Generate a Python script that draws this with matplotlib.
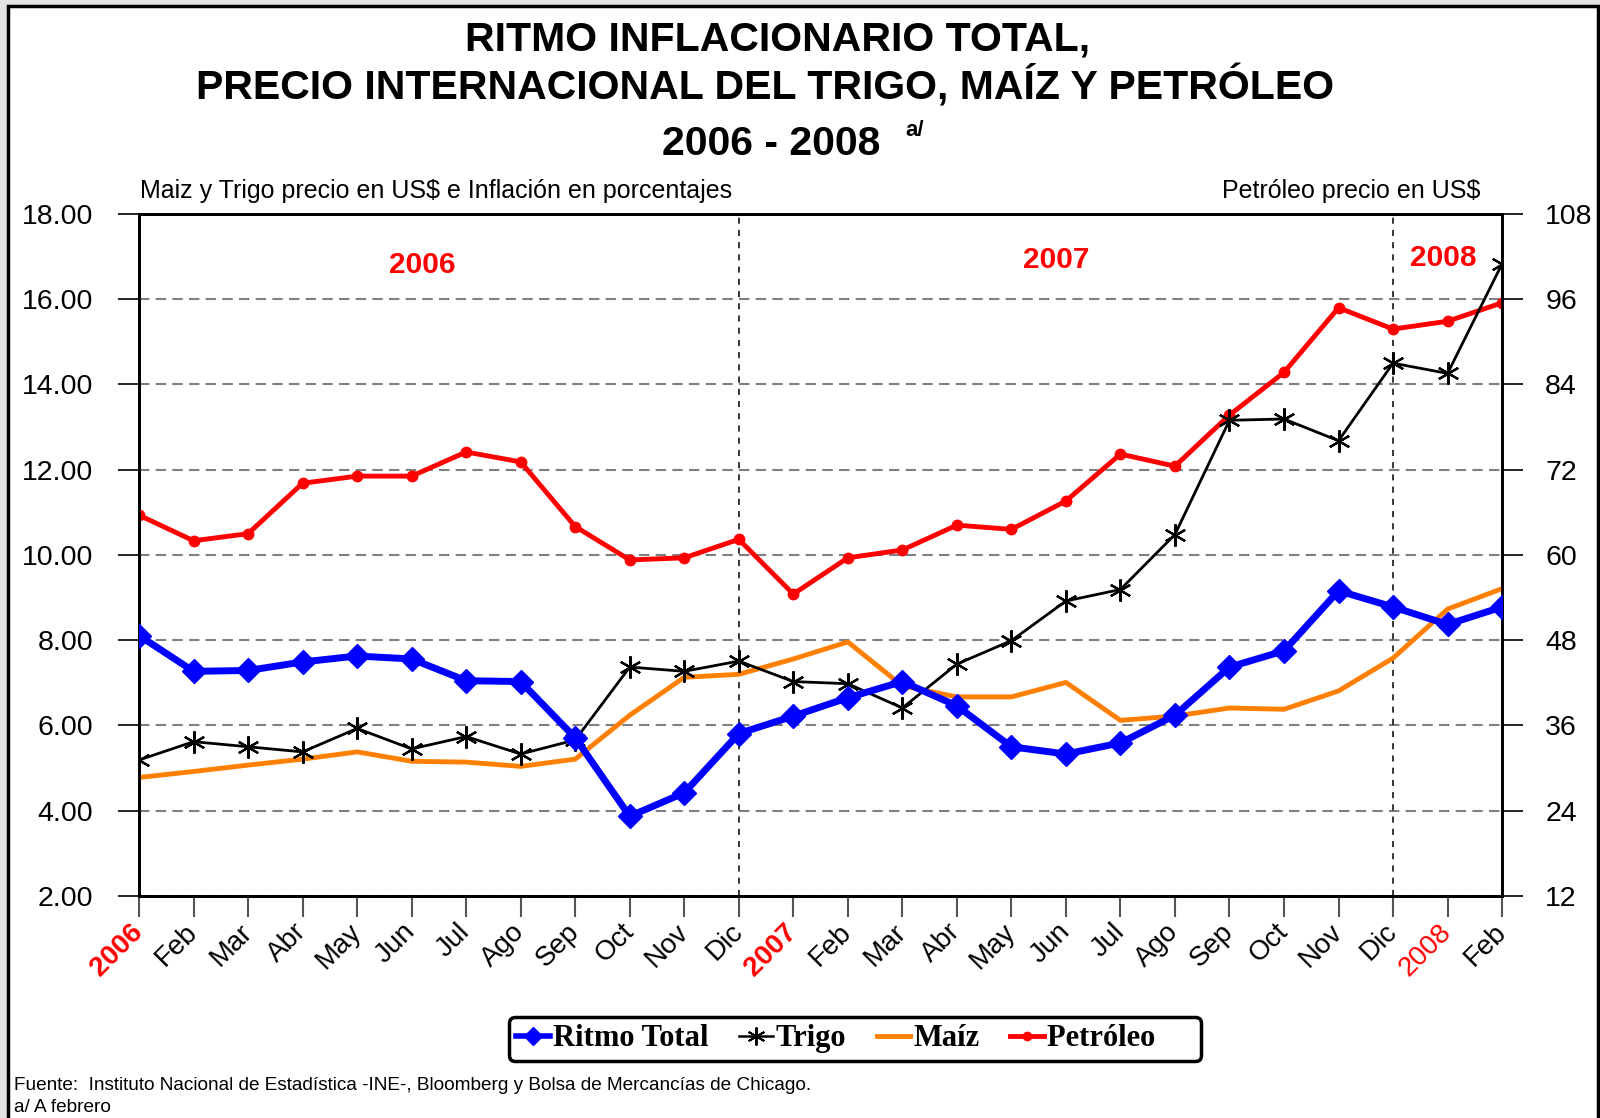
import matplotlib
matplotlib.use("Agg")
import matplotlib.pyplot as plt
from matplotlib.patches import Rectangle
from matplotlib.lines import Line2D

plt.rcParams['font.family'] = ['Liberation Sans', 'DejaVu Sans']

# Data
months = ['2006', 'Feb', 'Mar', 'Abr', 'May', 'Jun', 'Jul', 'Ago', 'Sep', 'Oct', 'Nov', 'Dic',
          '2007', 'Feb', 'Mar', 'Abr', 'May', 'Jun', 'Jul', 'Ago', 'Sep', 'Oct', 'Nov', 'Dic',
          '2008', 'Feb']
ritmo = [8.11, 7.27, 7.29, 7.49, 7.63, 7.56, 7.05, 7.03, 5.71, 3.87, 4.42, 5.81,
         6.22, 6.65, 7.03, 6.46, 5.50, 5.33, 5.59, 6.24, 7.37, 7.75, 9.16, 8.78,
         8.37, 8.78]
trigo = [5.19, 5.62, 5.50, 5.38, 5.93, 5.45, 5.74, 5.33, 5.66, 7.37, 7.27, 7.51,
         7.03, 6.98, 6.41, 7.44, 7.99, 8.92, 9.19, 10.48, 13.16, 13.19, 12.68, 14.50,
         14.26, 16.83]
maiz = [4.78, 4.92, 5.07, 5.21, 5.38, 5.16, 5.14, 5.04, 5.21, 6.24, 7.13, 7.20,
        7.56, 7.96, 6.93, 6.67, 6.67, 7.01, 6.12, 6.22, 6.41, 6.38, 6.81, 7.58,
        8.73, 9.21]
petroleo = [65.6, 62.0, 63.0, 70.1, 71.1, 71.1, 74.5, 73.1, 64.0, 59.3, 59.6, 62.2,
            54.5, 59.6, 60.7, 64.2, 63.6, 67.6, 74.2, 72.5, 79.7, 85.7, 94.8, 91.8,
            92.9, 95.5]
left_ticks = [2, 4, 6, 8, 10, 12, 14, 16, 18]
right_ticks = [12, 24, 36, 48, 60, 72, 84, 96, 108]
year_idx = {0: True, 12: True, 24: False}   # index -> bold
x = list(range(len(months)))

fig = plt.figure(figsize=(16, 11.18), dpi=100)
fig.patch.set_facecolor('#e4e4e4')
fig.add_artist(Rectangle((8 / 1600, -0.01), 1590 / 1600, 1.01 - 6 / 1118,
                         transform=fig.transFigure, facecolor='white',
                         edgecolor='black', lw=2.5, zorder=0))

# base axes carries petroleum (right scale) and the x axis
ax2 = fig.add_axes([0.0869, 0.1986, 0.8519, 0.61])
ax = ax2.twinx()
ax2.yaxis.tick_right()
ax.yaxis.tick_left()
ax.set_zorder(ax2.get_zorder() + 1)
ax.patch.set_visible(False)
ax2.patch.set_visible(True)
ax2.patch.set_facecolor('white')

ax2.plot(x, petroleo, color='#ff0000', lw=3.5, marker='o', ms=7.5, label='Petróleo', zorder=3)
ax.plot(x, maiz, color='#ff8000', lw=3.5, label='Maíz', zorder=2)
ax.plot(x, trigo, color='black', lw=2, marker=(6, 2, 0), ms=16, mew=1.6, label='Trigo', zorder=3)
ax.plot(x, ritmo, color='#0000ff', lw=5, marker='D', ms=12, label='Ritmo Total', zorder=4)

ax.set_xlim(0, 25)
ax2.set_xlim(0, 25)
ax.set_ylim(2, 18)
ax2.set_ylim(12, 108)
ax.set_yticks(left_ticks)
ax.set_yticklabels([f'{v:.2f}' for v in left_ticks])
ax2.set_yticks(right_ticks)
ax2.set_yticklabels([str(v) for v in right_ticks])

ax2.yaxis.grid(True, color='#808080', ls=(0, (5, 3)), lw=1.5)
for xv in [11, 23]:
    ax2.axvline(xv, color='black', ls=(0, (4, 4)), lw=1.1)

ax.tick_params(axis='y', direction='out', length=15, width=1.2, pad=18, labelsize=20.5)
ax2.tick_params(axis='y', direction='out', length=15, width=1.2, pad=16, labelsize=20.5)
ax2.set_xticks(x)
ax2.tick_params(axis='x', direction='out', length=15, width=1.5, color='#555555', pad=8)
ax2.set_xticklabels(months, rotation=45, ha='right', va='center', rotation_mode='anchor',
                    fontsize=20)
for i, lab in enumerate(ax2.get_xticklabels()):
    if i in year_idx:
        lab.set_color('#ff0000')
        if year_idx[i]:
            lab.set_fontweight('bold')

for a in (ax, ax2):
    for s in a.spines.values():
        s.set_linewidth(2)
        s.set_color('black')

# year markers inside the plot
ax.text(0.208, 0.925, '2006', transform=ax.transAxes, color='#ff0000', fontsize=21.5,
        fontweight='bold', ha='center', va='center')
ax.text(0.673, 0.933, '2007', transform=ax.transAxes, color='#ff0000', fontsize=21.5,
        fontweight='bold', ha='center', va='center')
ax.text(0.957, 0.935, '2008', transform=ax.transAxes, color='#ff0000', fontsize=21.5,
        fontweight='bold', ha='center', va='center')

# titles
fig.text(0.486, 0.9544, 'RITMO INFLACIONARIO TOTAL,', ha='center', va='baseline',
         fontsize=29.5, fontweight='bold')
fig.text(0.478, 0.9114, 'PRECIO INTERNACIONAL DEL TRIGO, MAÍZ Y PETRÓLEO', ha='center',
         va='baseline', fontsize=29.5, fontweight='bold')
fig.text(0.482, 0.8614, '2006 - 2008', ha='center', va='baseline', fontsize=29.5,
         fontweight='bold')
fig.text(0.566, 0.878, 'a/', ha='left', va='baseline', fontsize=16, fontweight='bold')
fig.text(0.0875, 0.8229, 'Maiz y Trigo precio en US$ e Inflación en porcentajes',
         ha='left', va='baseline', fontsize=18)
fig.text(0.925, 0.8229, 'Petróleo precio en US$', ha='right', va='baseline', fontsize=18)

# legend
handles = [
    Line2D([], [], color='#0000ff', lw=4, marker='D', ms=9),
    Line2D([], [], color='black', lw=1.8, marker=(6, 2, 0), ms=13, mew=1.4),
    Line2D([], [], color='#ff8000', lw=3.5),
    Line2D([], [], color='#ff0000', lw=3.5, marker='o', ms=6),
]
leg = fig.legend(handles, ['Ritmo Total', 'Trigo', 'Maíz', 'Petróleo     '], ncol=4,
                 loc='center left', bbox_to_anchor=(0.318, 0.0707),
                 prop={'family': 'Liberation Serif', 'weight': 'bold', 'size': 22},
                 frameon=True, fancybox=True, edgecolor='black', framealpha=1,
                 handlelength=1.1, handletextpad=0.1, columnspacing=1.0,
                 borderpad=0.25, borderaxespad=0)
leg.get_frame().set_linewidth(2.5)

# notes
fig.text(0.0085, 0.025, 'Fuente:  Instituto Nacional de Estadística -INE-, Bloomberg y Bolsa de '
         'Mercancías de Chicago.', ha='left', va='baseline', fontsize=13.7)
fig.text(0.0085, 0.0055, 'a/ A febrero', ha='left', va='baseline', fontsize=13.7)

fig.savefig('out.png', dpi=100, facecolor=fig.get_facecolor())
